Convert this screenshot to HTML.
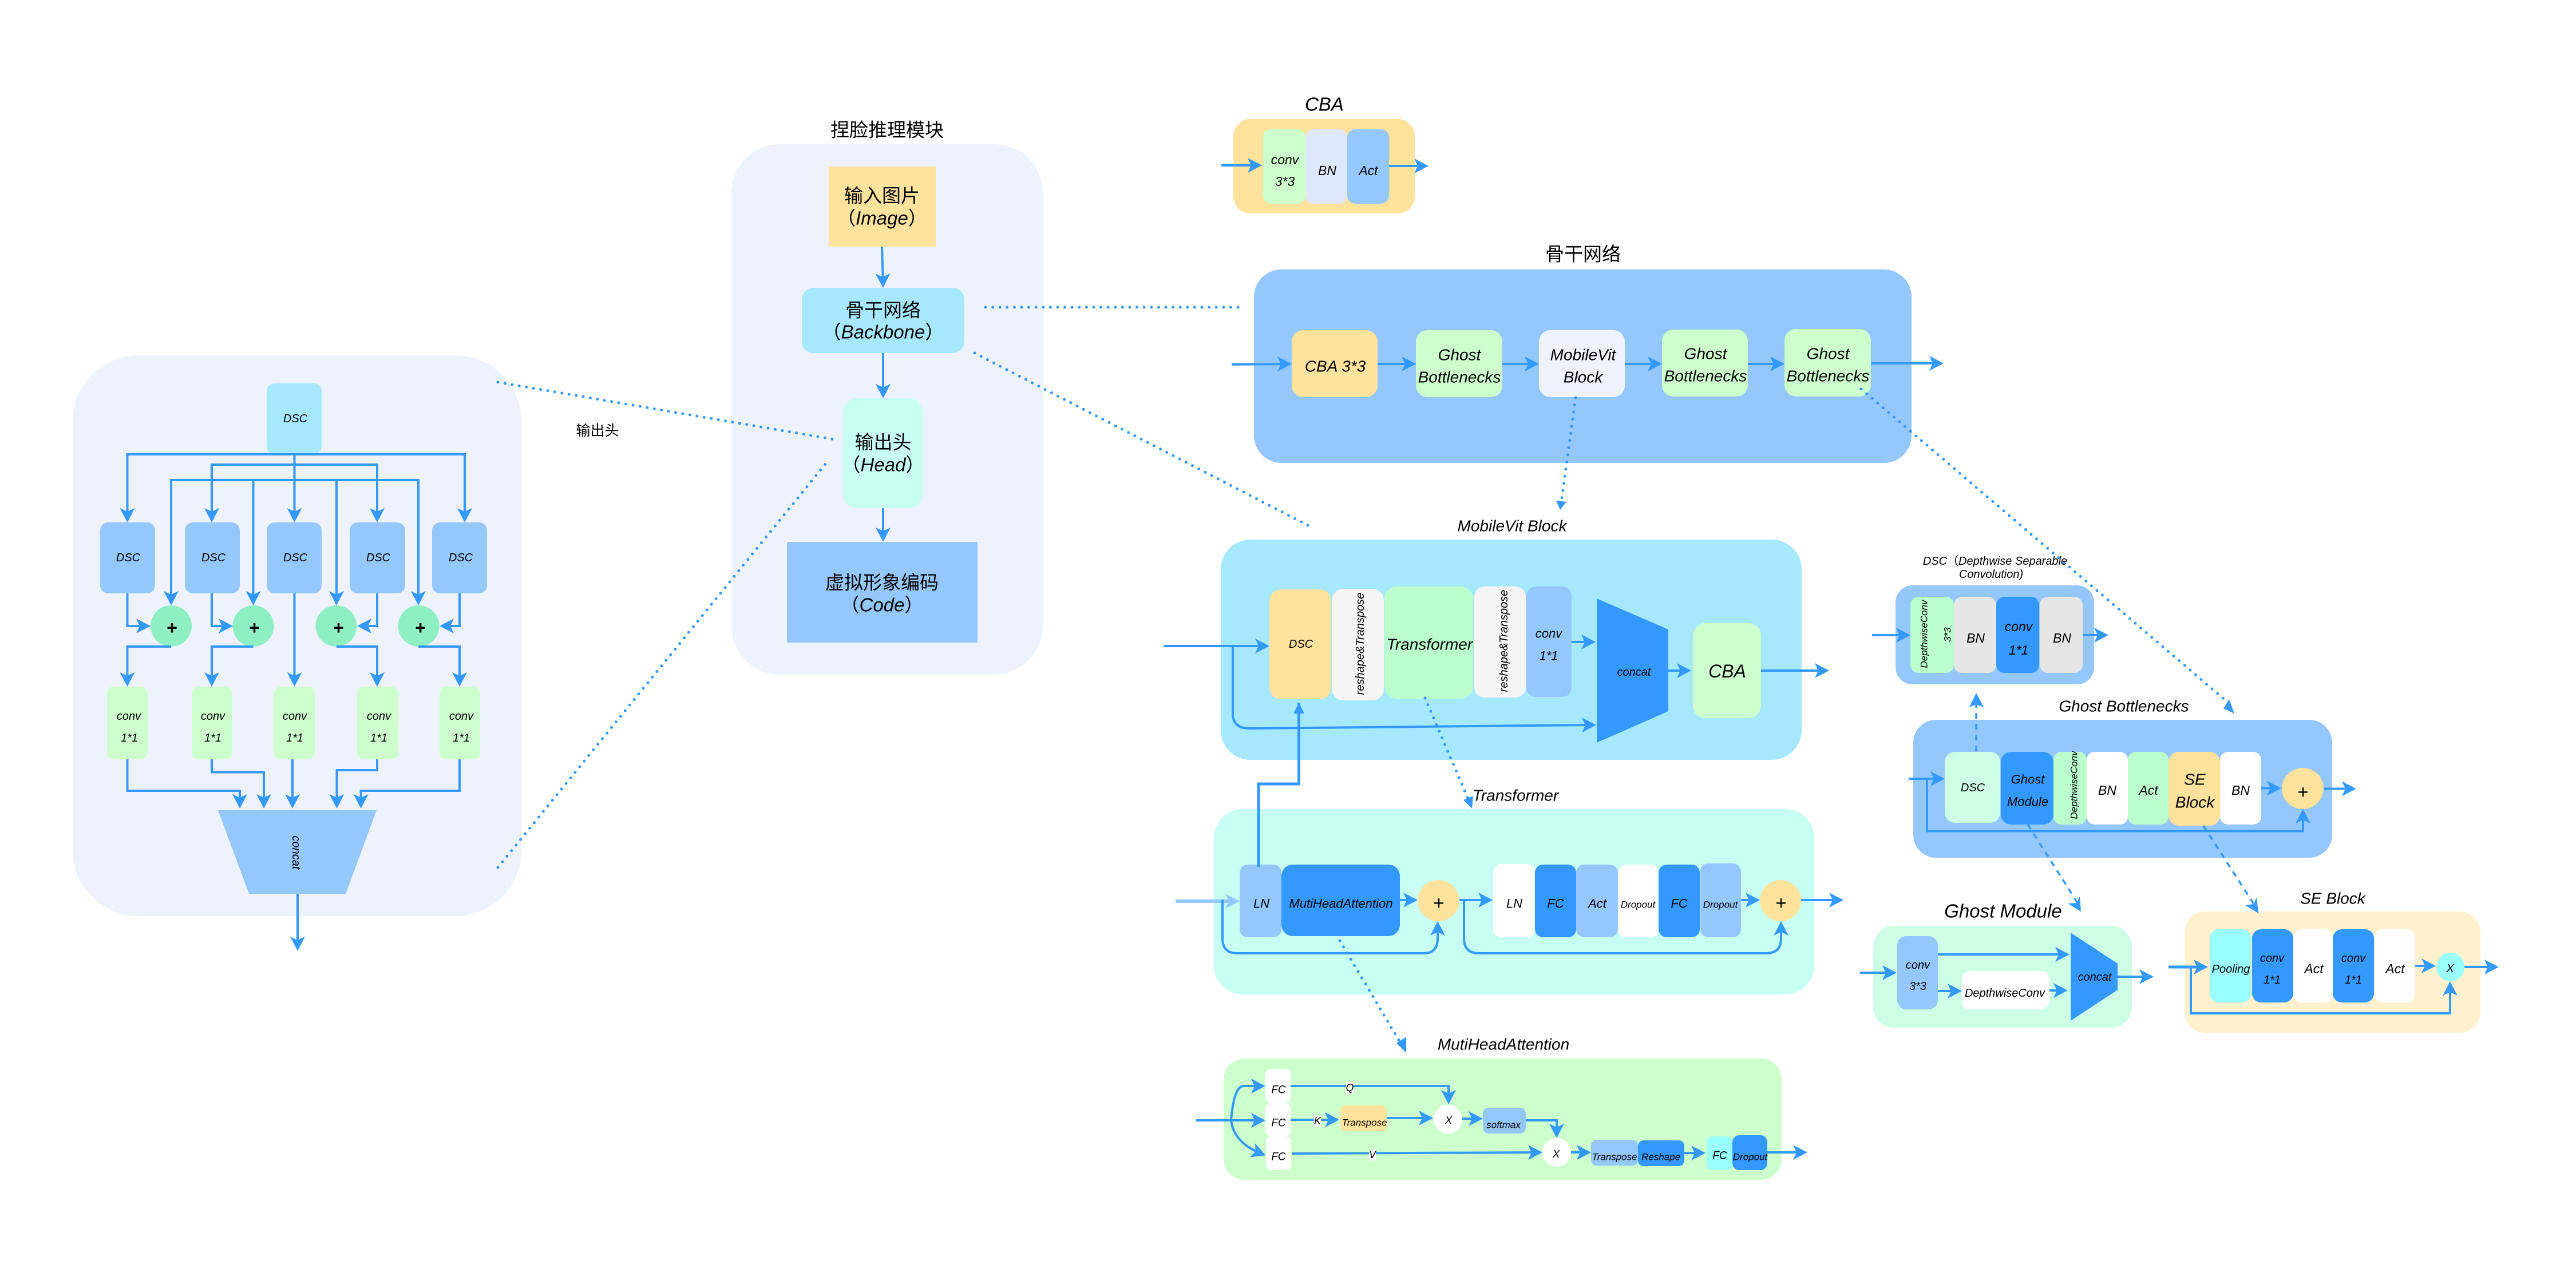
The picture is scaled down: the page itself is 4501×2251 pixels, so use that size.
<!DOCTYPE html>
<html><head><meta charset="utf-8"><style>
html,body{margin:0;padding:0;background:#fff}
svg{display:block}
text{font-family:"Liberation Sans","Noto Sans CJK SC",sans-serif;font-style:italic;text-anchor:middle;dominant-baseline:central;fill:#000}
.cn{font-style:normal}
.c{fill:none;stroke:#3399FF;stroke-width:4}
.a{marker-end:url(#h)}
.dot{fill:none;stroke:#3399FF;stroke-width:5;stroke-linecap:round;stroke-dasharray:0 12.6}
.dash{fill:none;stroke:#3399FF;stroke-width:3.5;stroke-dasharray:10 9}
</style></head><body>
<svg xmlns="http://www.w3.org/2000/svg" width="4501" height="2251" viewBox="0 0 4501 2251">
<defs>
<marker id="h" markerUnits="userSpaceOnUse" markerWidth="25" markerHeight="26" viewBox="0 0 25 26" refX="19" refY="13" orient="auto"><path d="M0 0L25 13L0 26L6 13Z" fill="#3399FF"/></marker>
<marker id="hl" markerUnits="userSpaceOnUse" markerWidth="25" markerHeight="26" viewBox="0 0 25 26" refX="19" refY="13" orient="auto"><path d="M0 0L25 13L0 26L6 13Z" fill="#94C7FB"/></marker>
<marker id="b" markerUnits="userSpaceOnUse" markerWidth="19" markerHeight="19" viewBox="0 0 19 19" refX="19" refY="9.5" orient="auto"><path d="M0 0L19 9.5L0 19Z" fill="#3399FF"/></marker>
</defs>
<rect width="4501" height="2251" fill="#fff"/>

<!-- left panel -->
<rect x="127" y="621" width="784" height="980" rx="115" fill="#EDF2FC"/>
<rect x="466" y="670" width="96" height="124" rx="14" fill="#A6E9FF"/>
<g fill="#94C7FB">
<rect x="175" y="913" width="96" height="124" rx="14"/><rect x="323" y="913" width="96" height="124" rx="14"/><rect x="466" y="913" width="96" height="124" rx="14"/><rect x="611" y="913" width="97" height="124" rx="14"/><rect x="755" y="913" width="96" height="124" rx="14"/>
<path d="M381 1416H658L604 1562H435Z"/>
</g>
<g fill="#8EEFC2">
<ellipse cx="299" cy="1094" rx="36" ry="36"/><ellipse cx="442.500" cy="1094" rx="36" ry="36"/><ellipse cx="587.500" cy="1094" rx="36" ry="36"/><ellipse cx="731.500" cy="1094" rx="36" ry="36"/>
</g>
<g fill="#CCFFCC">
<rect x="187" y="1200" width="71" height="127" rx="12"/><rect x="335" y="1200" width="71" height="127" rx="12"/><rect x="479" y="1200" width="71" height="127" rx="12"/><rect x="624" y="1200" width="72" height="127" rx="12"/><rect x="768" y="1200" width="71" height="127" rx="12"/>
</g>

<!-- middle panel -->
<rect x="1278" y="252" width="544" height="927" rx="85" fill="#EDF2FC"/>
<rect x="1448" y="291" width="187" height="140" fill="#FFE29C"/>
<rect x="1401" y="503" width="284" height="114" rx="20" fill="#A6E9FF"/>
<rect x="1473" y="696" width="139" height="192" rx="24" fill="#C7FFF3"/>
<rect x="1375" y="947" width="333" height="176" fill="#94C7FB"/>

<!-- CBA -->
<rect x="2155" y="208" width="317" height="165" rx="30" fill="#FFE29C"/>
<rect x="2207" y="226" width="74" height="130" rx="14" fill="#CCFFCC"/>
<rect x="2281" y="226" width="73" height="130" rx="14" fill="#DFE8FA"/>
<rect x="2354" y="226" width="73" height="130" rx="14" fill="#94C7FB"/>

<!-- backbone -->
<rect x="2191" y="471" width="1149" height="338" rx="48" fill="#94C7FB"/>
<rect x="2257" y="577" width="150" height="117" rx="20" fill="#FFE29C"/>
<rect x="2474" y="577" width="151" height="117" rx="20" fill="#CCFFCC"/>
<rect x="2689" y="577" width="150" height="117" rx="20" fill="#EDF2FC"/>
<rect x="2904" y="576" width="150" height="117" rx="20" fill="#CCFFCC"/>
<rect x="3118" y="575" width="151" height="118" rx="20" fill="#CCFFCC"/>

<!-- MobileVit -->
<rect x="2133" y="943" width="1015" height="385" rx="52" fill="#A6E9FF"/>
<rect x="2218" y="1030" width="108" height="192" rx="20" fill="#FFE29C"/>
<rect x="2327" y="1029" width="91" height="195" rx="20" fill="#F5F5F5"/>
<rect x="2419" y="1025" width="155" height="196" rx="22" fill="#BBFFCC"/>
<rect x="2576" y="1025" width="90" height="194" rx="18" fill="#F5F5F5"/>
<rect x="2667" y="1025" width="79" height="193" rx="16" fill="#94C7FB"/>
<path d="M2790 1046L2915 1100V1243L2790 1298Z" fill="#3399FF"/>
<rect x="2958" y="1089" width="119" height="166" rx="22" fill="#CCFFCC"/>

<!-- Transformer -->
<rect x="2121" y="1414" width="1049" height="324" rx="50" fill="#C7FFF3"/>
<rect x="2166" y="1511" width="73" height="127" rx="14" fill="#94C7FB"/>
<rect x="2239" y="1511" width="207" height="125" rx="20" fill="#3399FF"/>
<ellipse cx="2513.500" cy="1574" rx="36.500" ry="36" fill="#FFE29C"/>
<rect x="2609" y="1510" width="73" height="128" rx="14" fill="#fff"/>
<rect x="2682" y="1511" width="72" height="127" rx="14" fill="#3399FF"/>
<rect x="2754" y="1511" width="73" height="127" rx="14" fill="#94C7FB"/>
<rect x="2827" y="1511" width="71" height="127" rx="14" fill="#fff"/>
<rect x="2898" y="1511" width="72" height="127" rx="14" fill="#3399FF"/>
<rect x="2971" y="1509" width="71" height="129" rx="14" fill="#94C7FB"/>
<ellipse cx="3111" cy="1574" rx="36" ry="36" fill="#FFE29C"/>

<!-- MHA -->
<rect x="2138" y="1850" width="975" height="212" rx="36" fill="#CCFFCC"/>
<rect x="2211" y="1868" width="44" height="59" rx="10" fill="#fff"/>
<rect x="2211" y="1927" width="44" height="59" rx="10" fill="#fff"/>
<rect x="2212" y="1986" width="44" height="59" rx="10" fill="#fff"/>
<rect x="2342" y="1932" width="81" height="45" rx="10" fill="#FFE29C"/>
<ellipse cx="2530" cy="1956" rx="25" ry="25" fill="#fff"/>
<rect x="2591" y="1936" width="75" height="45" rx="10" fill="#94C7FB"/>
<ellipse cx="2720" cy="2014" rx="25" ry="25" fill="#fff"/>
<rect x="2780" y="1992" width="82" height="45" rx="10" fill="#94C7FB"/>
<rect x="2862" y="1993" width="81" height="45" rx="10" fill="#3399FF"/>
<rect x="2982" y="1986" width="45" height="59" rx="10" fill="#99FFFF"/>
<rect x="3027" y="1984" width="61" height="61" rx="12" fill="#3399FF"/>

<!-- DSC right -->
<rect x="3312" y="1023" width="347" height="173" rx="30" fill="#94C7FB"/>
<rect x="3338" y="1043" width="76" height="133" rx="14" fill="#BBFFCC"/>
<rect x="3414" y="1043" width="74" height="133" rx="14" fill="#E6E6E6"/>
<rect x="3488" y="1043" width="75" height="133" rx="14" fill="#3399FF"/>
<rect x="3564" y="1043" width="75" height="133" rx="14" fill="#E6E6E6"/>

<!-- Ghost bottlenecks -->
<rect x="3343" y="1258" width="732" height="241" rx="40" fill="#94C7FB"/>
<rect x="3398" y="1314" width="97" height="124" rx="18" fill="#CCFFE6"/>
<rect x="3496" y="1314" width="92" height="127" rx="18" fill="#3399FF"/>
<rect x="3588" y="1314" width="58" height="127" rx="14" fill="#BBFFCC"/>
<rect x="3646" y="1314" width="72" height="127" rx="14" fill="#fff"/>
<rect x="3718" y="1314" width="71" height="127" rx="14" fill="#BBFFCC"/>
<rect x="3789" y="1314" width="90" height="129" rx="18" fill="#FFE29C"/>
<rect x="3879" y="1314" width="72" height="127" rx="14" fill="#fff"/>
<ellipse cx="4023.500" cy="1378" rx="36.500" ry="36" fill="#FFE29C"/>

<!-- Ghost Module -->
<rect x="3273" y="1618" width="452" height="178" rx="36" fill="#CCFFE6"/>
<rect x="3315" y="1636" width="71" height="128" rx="16" fill="#94C7FB"/>
<rect x="3428" y="1697" width="153" height="67" rx="14" fill="#fff"/>
<path d="M3618 1630L3700 1684V1730L3618 1784Z" fill="#3399FF"/>

<!-- SE -->
<rect x="3817" y="1593" width="517" height="212" rx="36" fill="#FFF1CE"/>
<rect x="3861" y="1624" width="72" height="128" rx="16" fill="#99FFFF"/>
<rect x="3935" y="1624" width="72" height="128" rx="16" fill="#3399FF"/>
<rect x="4007" y="1624" width="69" height="128" rx="14" fill="#fff"/>
<rect x="4076" y="1624" width="72" height="128" rx="16" fill="#3399FF"/>
<rect x="4149" y="1624" width="71" height="128" rx="14" fill="#fff"/>
<ellipse cx="4281.500" cy="1690" rx="24.500" ry="25" fill="#99FFFF"/>

<!-- connectors: left -->
<g class="c">
<path class="a" d="M514.500 794V907"/><path class="a" d="M514.500 794H222.500V907"/><path class="a" d="M514.500 794H812V907"/>
<path class="a" d="M514.500 812H370V907"/><path class="a" d="M514.500 812H659V907"/>
<path class="a" d="M442.500 839H299V1052"/><path class="a" d="M442.500 839V1052"/><path class="a" d="M588 839V1052"/><path class="a" d="M442.500 839H731V1052"/>
<path class="a" d="M222.500 1037V1094H257"/><path class="a" d="M370 1037V1094H401"/><path class="a" d="M659 1037V1094H630"/><path class="a" d="M803 1037V1094H774"/>
<path class="a" d="M299 1130H222.500V1194"/><path class="a" d="M442.500 1130H370V1194"/><path class="a" d="M514.500 1037V1194"/><path class="a" d="M588 1130H659V1194"/><path class="a" d="M731 1130H803V1194"/>
<path class="a" d="M222.500 1327V1382H419V1407"/><path class="a" d="M370 1327V1349.500H461V1407"/><path class="a" d="M511 1327V1407"/><path class="a" d="M659 1327V1346H588.500V1407"/><path class="a" d="M803 1327V1382H630.600V1407"/>
<path class="a" d="M520 1562V1656"/>
<!-- middle -->
<path class="a" d="M1541 431L1543 497"/><path class="a" d="M1543 617V690"/><path class="a" d="M1543 888V941"/>
<!-- CBA -->
<path class="a" d="M2134 289H2199"/><path class="a" d="M2427 290H2490"/>
<!-- backbone -->
<path class="a" d="M2152 637L2251 636"/><path class="a" d="M2407 636H2468"/><path class="a" d="M2625 636H2683"/><path class="a" d="M2839 636H2898"/><path class="a" d="M3054 636H3112"/><path class="a" d="M3269 635H3390"/>
<!-- mobilevit -->
<path class="a" d="M2033 1129H2212"/><path class="a" d="M2746 1122H2782"/><path class="a" d="M2915 1172H2949"/><path class="a" d="M3077 1172H3190"/>
<path class="a" d="M2154 1129V1250Q2156 1273 2183 1273L2783 1267"/>
<path d="M2199 1515V1370H2269.500V1228" stroke-width="5" marker-end="url(#b)"/>
<!-- transformer -->
<path d="M2054 1575H2160" stroke="#94C7FB" marker-end="url(#hl)" stroke-width="6"/>
<path class="a" d="M2446 1573H2471"/>
<path class="a" d="M2136 1572V1640Q2136 1666 2162 1666H2488Q2512 1666 2512 1640V1616"/>
<path class="a" d="M2550 1573H2602"/>
<path class="a" d="M3042 1573H3069"/><path class="a" d="M3147 1573H3215"/>
<path class="a" d="M2558 1573V1640Q2558 1666 2584 1666H3086Q3112 1666 3112 1640V1616"/>
<!-- MHA -->
<path class="a" d="M2090 1958H2205"/>
<path class="a" d="M2151 1958Q2156 1898 2173 1898H2205"/>
<path class="a" d="M2151 1958Q2156 1998 2206 2017"/>
<path class="a" d="M2255 1898H2531V1924"/>
<path class="a" d="M2255 1957H2334"/>
<path class="a" d="M2423 1954H2498"/>
<path class="a" d="M2555 1955H2585"/>
<path class="a" d="M2666 1958H2720V1983"/>
<path class="a" d="M2257 2016L2689 2014"/>
<path class="a" d="M2745 2014H2774"/>
<path class="a" d="M2943 2015H2974"/>
<path class="a" d="M3088 2014H3152"/>
<!-- DSC right -->
<path class="a" d="M3271 1110H3332"/><path class="a" d="M3639 1110H3678"/>
<!-- ghost bottleneck -->
<path class="a" d="M3335 1361H3392"/><path class="a" d="M3951 1377.500H3980"/><path class="a" d="M4060 1378.500H4111"/>
<path class="a" d="M3367 1361V1452.500H4024V1420"/>
<!-- ghost module -->
<path class="a" d="M3250 1700H3308"/><path class="a" d="M3386 1668H3610"/><path class="a" d="M3386 1732H3422"/><path class="a" d="M3581 1731H3607"/><path class="a" d="M3700 1707H3757"/>
<!-- SE -->
<path class="a" d="M3789 1690H3852" stroke-width="5"/><path class="a" d="M4220 1688H4250"/><path class="a" d="M4306 1690H4360"/>
<path class="a" d="M3828 1690V1771H4281V1721"/>
</g>

<!-- dotted -->
<g class="dot">
<path d="M870 668L1458 768"/><path d="M870 1516L1443 810"/>
<path d="M1722 537H2166"/><path d="M1703 617L2289 920"/>
<path d="M2753 695L2728 878"/><path d="M3252 680L3898 1232"/>
<path d="M2490 1220L2566 1398"/><path d="M2341 1644L2449 1826"/>
</g>
<g fill="#3399FF">
<path d="M2719 875L2737 877L2726 891Z"/>
<path d="M3895 1222L3904 1247L3885 1238Z"/>
<path d="M2557 1398L2574 1391L2572 1413Z"/>
<path d="M2440 1823L2457 1812L2457 1840Z"/>
</g>
<g class="dash">
<path d="M3453 1313V1226"/>
<path d="M3543 1441L3630 1578"/>
<path d="M3850 1443L3938 1580"/>
</g>
<g fill="#3399FF">
<path d="M3453 1211L3466 1236L3453 1231L3441 1236Z"/>
<path d="M3636 1593L3613 1579L3629 1578L3634 1566Z"/>
<path d="M3946 1596L3923 1582L3938 1580L3943 1568Z"/>
</g>

<!-- text: left -->
<g font-size="20">
<text x="516" y="732">DSC</text>
<text x="224" y="975">DSC</text><text x="373" y="975">DSC</text><text x="516" y="975">DSC</text><text x="661" y="975">DSC</text><text x="805" y="975">DSC</text>
<text x="225" y="1252">conv</text><text x="226" y="1290">1*1</text>
<text x="372" y="1252">conv</text><text x="372" y="1290">1*1</text>
<text x="515" y="1252">conv</text><text x="515" y="1290">1*1</text>
<text x="662" y="1252">conv</text><text x="662" y="1290">1*1</text>
<text x="806" y="1252">conv</text><text x="806" y="1290">1*1</text>
<text x="0" y="0" transform="translate(517 1490) rotate(90)">concat</text>
</g>
<g font-size="32" font-weight="bold" style="font-style:normal">
<text x="300" y="1097">+</text><text x="444" y="1097">+</text><text x="591" y="1097">+</text><text x="734" y="1097">+</text>
</g>
<text class="cn" x="1044" y="753" font-size="25">输出头</text>

<!-- text: middle -->
<g font-size="33">
<text class="cn" x="1550" y="227">捏脸推理模块</text>
<text class="cn" x="1541" y="342">输入图片</text>
<text x="1541" y="381"><tspan class="cn" style="font-style:normal">（</tspan>Image<tspan style="font-style:normal">）</tspan></text>
<text class="cn" x="1543" y="542">骨干网络</text>
<text x="1543" y="580"><tspan style="font-style:normal">（</tspan>Backbone<tspan style="font-style:normal">）</tspan></text>
<text class="cn" x="1543" y="773">输出头</text>
<text x="1543" y="812"><tspan style="font-style:normal">（</tspan>Head<tspan style="font-style:normal">）</tspan></text>
<text class="cn" x="1541" y="1018">虚拟形象编码</text>
<text x="1541" y="1057"><tspan style="font-style:normal">（</tspan>Code<tspan style="font-style:normal">）</tspan></text>
<text x="2314" y="182">CBA</text>
<text class="cn" x="2766" y="444">骨干网络</text>
<text x="3500" y="1592">Ghost Module</text>
</g>
<g font-size="23">
<text x="2245" y="279">conv</text><text x="2245" y="317">3*3</text><text x="2319" y="298">BN</text><text x="2391" y="298">Act</text>
</g>
<g font-size="28">
<text x="2333" y="640">CBA 3*3</text>
<text x="2550" y="620">Ghost</text><text x="2550" y="659">Bottlenecks</text>
<text x="2766" y="620">MobileVit</text><text x="2766" y="659">Block</text>
<text x="2980" y="618">Ghost</text><text x="2980" y="657">Bottlenecks</text>
<text x="3194" y="618">Ghost</text><text x="3194" y="657">Bottlenecks</text>
<text x="2642" y="919">MobileVit Block</text>
<text x="2498" y="1126">Transformer</text>
<text x="2648" y="1390">Transformer</text>
<text x="2627" y="1825">MutiHeadAttention</text>
<text x="3711" y="1234">Ghost Bottlenecks</text>
<text x="3835" y="1362">SE</text><text x="3835" y="1402">Block</text>
<text x="4076" y="1570">SE Block</text>
</g>
<g font-size="20">
<text x="2273" y="1126">DSC</text>
<text transform="translate(2377 1125) rotate(-90)">reshape&amp;Transpose</text>
<text transform="translate(2628 1120) rotate(-90)">reshape&amp;Transpose</text>
<text x="2706" y="1107" font-size="22">conv</text><text x="2706" y="1146" font-size="22">1*1</text>
<text x="2855" y="1175">concat</text>
<text x="3018" y="1173" font-size="32">CBA</text>
</g>
<g font-size="22">
<text x="2204" y="1579">LN</text><text x="2343" y="1579">MutiHeadAttention</text>
<text x="2646" y="1579">LN</text><text x="2718" y="1579">FC</text><text x="2791" y="1579">Act</text>
<text x="2934" y="1579">FC</text>
<text x="2862" y="1581" font-size="17">Dropout</text><text x="3006" y="1581" font-size="17">Dropout</text>
</g>
<g font-size="33" style="font-style:normal">
<text x="2514" y="1578" style="font-style:normal">+</text><text x="3112" y="1578" style="font-style:normal">+</text><text x="4024" y="1384" style="font-style:normal">+</text>
</g>
<!-- MHA labels -->
<g font-size="19">
<text x="2234" y="1905">FC</text><text x="2234" y="1963">FC</text><text x="2234" y="2022">FC</text>
<text x="3005" y="2020">FC</text>
</g>
<rect x="2352" y="1891" width="13" height="20" fill="#fff"/><text x="2358.500" y="1901" font-size="18">Q</text>
<rect x="2296" y="1950" width="12" height="19" fill="#fff"/><text x="2302" y="1959" font-size="18">K</text>
<rect x="2392" y="2009" width="12" height="19" fill="#fff"/><text x="2398" y="2018" font-size="18">V</text>
<g font-size="17">
<text x="2384" y="1962">Transpose</text><text x="2627" y="1966">softmax</text>
<text x="2821" y="2022">Transpose</text><text x="2902" y="2022">Reshape</text><text x="3058" y="2022">Dropout</text>
</g>
<g font-size="18"><text x="2531" y="1958">X</text><text x="2719" y="2017">X</text></g>
<!-- DSC right labels -->
<text x="3486" y="981" font-size="20">DSC<tspan style="font-style:normal">（</tspan>Depthwise Separable</text>
<text x="3479" y="1004" font-size="20">Convolution)</text>
<g font-size="17">
<text transform="translate(3362 1108) rotate(-90)">DepthwiseConv</text>
<text transform="translate(3403 1109) rotate(-90)">3*3</text>
<text transform="translate(3624 1372) rotate(-90)">DepthwiseConv</text>
</g>
<g font-size="23">
<text x="3452" y="1115">BN</text><text x="3527" y="1095">conv</text><text x="3527" y="1136">1*1</text><text x="3603" y="1115">BN</text>
<text x="3543" y="1362" font-size="22">Ghost</text><text x="3543" y="1401" font-size="22">Module</text>
<text x="3682" y="1381">BN</text><text x="3754" y="1381">Act</text><text x="3915" y="1381">BN</text>
<text x="3351" y="1687" font-size="20">conv</text><text x="3351" y="1724" font-size="20">3*3</text>
<text x="3970" y="1675" font-size="20">conv</text><text x="3970" y="1713" font-size="20">1*1</text>
<text x="4043" y="1693">Act</text>
<text x="4112" y="1675" font-size="20">conv</text><text x="4112" y="1713" font-size="20">1*1</text>
<text x="4185" y="1693">Act</text>
<text x="4281" y="1693" font-size="20">X</text>
</g>
<g font-size="20">
<text x="3447" y="1377">DSC</text>
<text x="3503" y="1736">DepthwiseConv</text>
<text x="3660" y="1708">concat</text>
<text x="3898" y="1694">Pooling</text>
</g>
</svg>
</body></html>
